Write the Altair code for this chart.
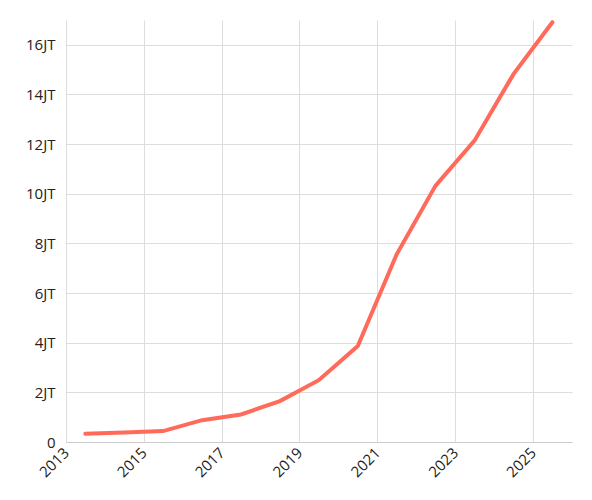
import altair as alt
import pandas as pd

years = [2013, 2014, 2015, 2016, 2017, 2018, 2019, 2020, 2021, 2022, 2023, 2024, 2025]
values = [330000, 380000, 440000, 880000, 1110000, 1650000, 2490000, 3870000,
          7560000, 10330000, 12140000, 14820000, 16910000]
tick_years = [2013, 2015, 2017, 2019, 2021, 2023, 2025]

df = pd.DataFrame({
    "date": [f"{y}-07-01" for y in years],
    "value": values,
})

tick_values = [alt.DateTime(year=y, month=1, date=1) for y in tick_years]

chart = alt.Chart(df).mark_line(color="#ff6a5a", strokeWidth=4, strokeCap="round").encode(
    x=alt.X("date:T",
            scale=alt.Scale(domain=[alt.DateTime(year=2013, month=1, date=1),
                                    alt.DateTime(year=2026, month=1, date=1)], nice=False),
            axis=alt.Axis(title=None, format="%Y", values=tick_values,
                          labelAngle=-45, labelAlign="right", labelBaseline="middle",
                          labelFontSize=15, labelColor="#222", labelFont="Open Sans",
                          ticks=False, labelPadding=8, domainColor="#ccc",
                          gridColor="#ddd", labelFlush=False)),
    y=alt.Y("value:Q",
            scale=alt.Scale(domain=[0, 17000000], nice=False),
            axis=alt.Axis(title=None, values=[0, 2e6, 4e6, 6e6, 8e6, 10e6, 12e6, 14e6, 16e6],
                          labelExpr="datum.value == 0 ? '0' : (datum.value/1000000) + 'JT'",
                          labelFontSize=15, labelColor="#222", labelFont="Open Sans",
                          ticks=False, labelPadding=11, domain=False, gridColor="#ddd")),
).properties(
    width=506, height=422,
    autosize=alt.AutoSizeParams(type="none"),
    padding={"left": 58, "top": 12, "right": 12, "bottom": 50},
).configure_view(stroke=None)

chart.save("out.html", embed_options={"renderer": "svg", "actions": False})
